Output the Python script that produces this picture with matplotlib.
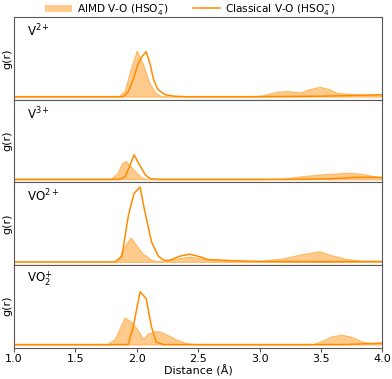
import numpy as np
import matplotlib
matplotlib.use('Agg')
import matplotlib.pyplot as plt
from matplotlib.patches import Patch
from matplotlib.lines import Line2D

# V2+
r_v2_aimd = [1.0, 1.80, 1.85, 1.90, 1.95, 2.00, 2.05, 2.10, 2.15, 2.20, 2.30, 2.90, 3.03, 3.14, 3.22,
             3.33, 3.42, 3.49, 3.56, 3.63, 3.74, 3.85, 4.0]
g_v2_aimd = [0, 0, 0.05, 0.55, 2.8, 4.65, 3.3, 1.5, 0.4, 0.05, 0, 0.02, 0.15, 0.5, 0.58,
             0.45, 0.8, 1.0, 0.8, 0.4, 0.27, 0.2, 0.14]
r_v2_cl = [1.0, 1.89, 1.93, 1.97, 2.01, 2.04, 2.076, 2.11, 2.136, 2.17, 2.23, 2.30, 2.40, 3.0, 3.5, 3.8, 4.0]
g_v2_cl = [0, 0, 0.5, 1.72, 3.27, 4.0, 4.52, 3.2, 1.75, 0.74, 0.2, 0.05, 0, 0, 0.05, 0.14, 0.2]

# V3+
r_v3_aimd = [1.0, 1.78, 1.84, 1.88, 1.91, 1.95, 1.99, 2.03, 2.07, 2.15, 3.0, 3.17, 3.33, 3.52, 3.74, 3.85, 4.0]
g_v3_aimd = [0, 0, 0.6, 1.65, 1.85, 1.3, 0.77, 0.26, 0.05, 0, 0, 0.05, 0.3, 0.52, 0.68, 0.52, 0.15]
r_v3_cl = [1.0, 1.86, 1.905, 1.946, 1.978, 2.03, 2.07, 2.11, 2.2, 3.3, 3.57, 3.79, 4.0]
g_v3_cl = [0, 0, 0.27, 1.45, 2.46, 1.28, 0.44, 0.05, 0, 0, 0.05, 0.2, 0.2]

# VO2+
r_vo_aimd = [1.0, 1.82, 1.85, 1.90, 1.95, 2.0, 2.05, 2.08, 2.11, 2.16, 2.25, 2.33, 2.43, 2.55, 2.7,
             2.9, 3.0, 3.12, 3.17, 3.33, 3.49, 3.58, 3.71, 3.85, 4.0]
g_vo_aimd = [0, 0, 0.3, 1.6, 2.47, 1.62, 0.8, 0.6, 0.27, 0.08, 0.15, 0.35, 0.55, 0.3, 0.15,
             0.05, 0.08, 0.27, 0.3, 0.75, 1.08, 0.7, 0.3, 0.1, 0.05]
r_vo_cl = [1.0, 1.823, 1.878, 1.932, 1.978, 2.027, 2.06, 2.12, 2.176, 2.22, 2.27, 2.35, 2.43, 2.52,
           2.58, 2.8, 3.0, 3.5, 4.0]
g_vo_cl = [0, 0, 0.57, 4.72, 6.9, 7.52, 5.4, 2.0, 0.58, 0.17, 0.17, 0.58, 0.78, 0.5,
           0.24, 0.12, 0.05, 0.02, 0.05]

# VO2^+
r_vo2_aimd = [1.0, 1.755, 1.82, 1.864, 1.90, 1.96, 2.01, 2.05, 2.095, 2.15, 2.19, 2.26, 2.33, 2.41, 2.5,
              3.40, 3.44, 3.52, 3.59, 3.67, 3.75, 3.83, 3.92, 4.0]
g_vo2_aimd = [0, 0, 0.58, 1.76, 2.72, 2.27, 1.42, 0.6, 1.15, 1.36, 1.32, 0.91, 0.48, 0.14, 0.03,
              0, 0.05, 0.44, 0.84, 1.0, 0.78, 0.34, 0.1, 0.05]
r_vo2_cl = [1.0, 1.93, 1.973, 2.027, 2.076, 2.12, 2.16, 2.22, 3.7, 4.0]
g_vo2_cl = [0, 0, 1.92, 5.3, 4.63, 1.76, 0.24, 0, 0, 0.15]

labels = [r'V$^{2+}$', r'V$^{3+}$', r'VO$^{2+}$', r'VO$_2^{+}$']
aimd = [(r_v2_aimd, g_v2_aimd), (r_v3_aimd, g_v3_aimd), (r_vo_aimd, g_vo_aimd), (r_vo2_aimd, g_vo2_aimd)]
classical = [(r_v2_cl, g_v2_cl), (r_v3_cl, g_v3_cl), (r_vo_cl, g_vo_cl), (r_vo2_cl, g_vo2_cl)]

orange = 'darkorange'

fig, axes = plt.subplots(4, 1, figsize=(3.92, 3.79), dpi=100, sharex=True)
fig.subplots_adjust(left=0.036, right=0.975, top=0.955, bottom=0.083, hspace=0)

for ax, lab, (ra, ga), (rc, gc) in zip(axes, labels, aimd, classical):
    ax.fill_between(ra, ga, 0, color=orange, alpha=0.45, linewidth=0.8)
    ax.plot(rc, gc, color=orange, lw=1.1)
    ax.set_xlim(1.0, 4.0)
    ax.set_ylim(-0.3, 8.0)
    ax.set_yticks([])
    ax.set_ylabel('g(r)', fontsize=8)
    ax.yaxis.set_label_coords(-0.006, 0.5)
    ax.text(0.035, 0.83, lab, transform=ax.transAxes, ha='left', va='center', fontsize=8.5)
    for s in ax.spines.values():
        s.set_color('0.35')
    ax.tick_params(axis='x', labelsize=8, color='0.35', length=3, pad=2)

axes[-1].set_xticks([1.0, 1.5, 2.0, 2.5, 3.0, 3.5, 4.0])
axes[-1].set_xlabel('Distance (Å)', fontsize=8, labelpad=0.5)

handles = [Patch(facecolor=orange, alpha=0.45, edgecolor='none'),
           Line2D([], [], color=orange, lw=1.1)]
fig.legend(handles, [r'AIMD V-O (HSO$_4^{-}$)', r'Classical V-O (HSO$_4^{-}$)'],
           loc='upper center', bbox_to_anchor=(0.485, 1.02), ncol=2, frameon=False,
           fontsize=7.6, handlelength=2.6, handletextpad=0.5, columnspacing=2.2)

fig.savefig('out.png', dpi=100)
